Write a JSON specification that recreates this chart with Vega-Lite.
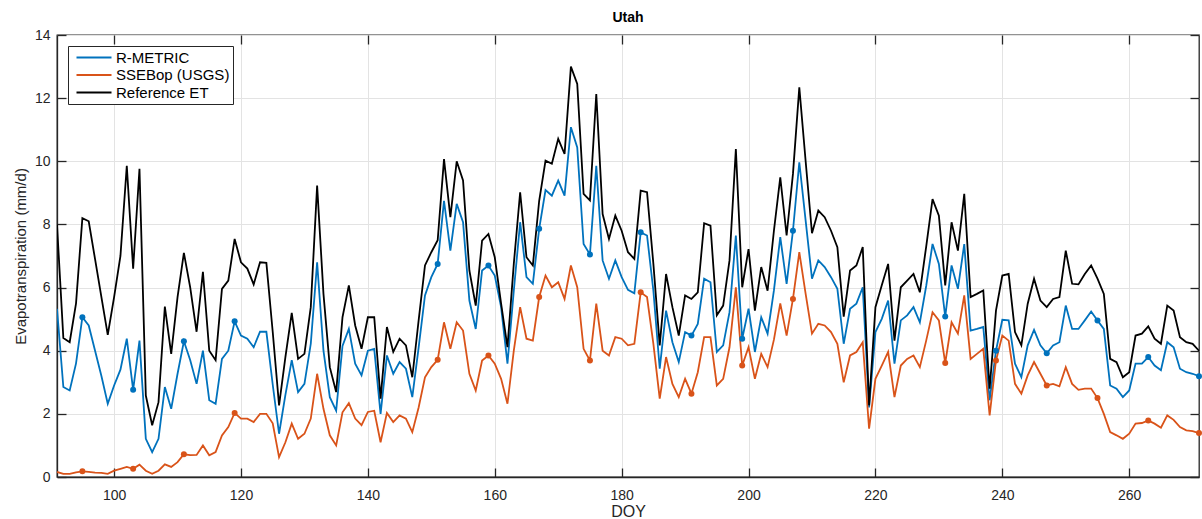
{
"$schema": "https://vega.github.io/schema/vega-lite/v6.json",
"width": 1142, "height": 442,
"autosize": {"type": "none"},
"padding": {"left": 57, "top": 35, "right": 3, "bottom": 42},
"background": "white",
"config": {"font": "Liberation Sans", "view": {"stroke": "#262626", "strokeWidth": 1.3}},
"title": {"text": "Utah", "fontSize": 14, "fontWeight": "bold", "offset": 3, "color": "black", "font": "Liberation Sans"},
"data": {"values": [
{"DOY":91,"ref":8.0,"rmetric":5.33,"ssebop":0.16},
{"DOY":92,"ref":4.4,"rmetric":2.85,"ssebop":0.10},
{"DOY":93,"ref":4.27,"rmetric":2.74,"ssebop":0.10},
{"DOY":94,"ref":5.5,"rmetric":3.6,"ssebop":0.15},
{"DOY":95,"ref":8.2,"rmetric":5.06,"ssebop":0.18},
{"DOY":96,"ref":8.1,"rmetric":4.8,"ssebop":0.16},
{"DOY":97,"ref":6.9,"rmetric":4.0,"ssebop":0.14},
{"DOY":98,"ref":5.7,"rmetric":3.2,"ssebop":0.13},
{"DOY":99,"ref":4.5,"rmetric":2.32,"ssebop":0.10},
{"DOY":100,"ref":5.7,"rmetric":2.9,"ssebop":0.20},
{"DOY":101,"ref":7.0,"rmetric":3.4,"ssebop":0.26},
{"DOY":102,"ref":9.86,"rmetric":4.38,"ssebop":0.32},
{"DOY":103,"ref":6.6,"rmetric":2.76,"ssebop":0.26},
{"DOY":104,"ref":9.76,"rmetric":4.32,"ssebop":0.39},
{"DOY":105,"ref":2.58,"rmetric":1.21,"ssebop":0.20},
{"DOY":106,"ref":1.64,"rmetric":0.79,"ssebop":0.10},
{"DOY":107,"ref":2.37,"rmetric":1.21,"ssebop":0.20},
{"DOY":108,"ref":5.4,"rmetric":2.85,"ssebop":0.40},
{"DOY":109,"ref":3.9,"rmetric":2.16,"ssebop":0.32},
{"DOY":110,"ref":5.7,"rmetric":3.27,"ssebop":0.47},
{"DOY":111,"ref":7.1,"rmetric":4.3,"ssebop":0.72},
{"DOY":112,"ref":6.0,"rmetric":3.7,"ssebop":0.69},
{"DOY":113,"ref":4.6,"rmetric":2.95,"ssebop":0.7},
{"DOY":114,"ref":6.5,"rmetric":4.0,"ssebop":1.0},
{"DOY":115,"ref":4.0,"rmetric":2.43,"ssebop":0.69},
{"DOY":116,"ref":3.7,"rmetric":2.32,"ssebop":0.79},
{"DOY":117,"ref":5.96,"rmetric":3.74,"ssebop":1.32},
{"DOY":118,"ref":6.22,"rmetric":4.0,"ssebop":1.58},
{"DOY":119,"ref":7.54,"rmetric":4.93,"ssebop":2.03},
{"DOY":120,"ref":6.8,"rmetric":4.48,"ssebop":1.85},
{"DOY":121,"ref":6.6,"rmetric":4.38,"ssebop":1.85},
{"DOY":122,"ref":6.1,"rmetric":4.11,"ssebop":1.74},
{"DOY":123,"ref":6.8,"rmetric":4.6,"ssebop":2.0},
{"DOY":124,"ref":6.78,"rmetric":4.6,"ssebop":2.0},
{"DOY":125,"ref":4.6,"rmetric":2.93,"ssebop":1.7},
{"DOY":126,"ref":2.27,"rmetric":1.37,"ssebop":0.63},
{"DOY":127,"ref":3.8,"rmetric":2.6,"ssebop":1.1},
{"DOY":128,"ref":5.2,"rmetric":3.7,"ssebop":1.69},
{"DOY":129,"ref":3.74,"rmetric":2.69,"ssebop":1.21},
{"DOY":130,"ref":3.9,"rmetric":2.95,"ssebop":1.37},
{"DOY":131,"ref":5.38,"rmetric":4.22,"ssebop":1.85},
{"DOY":132,"ref":9.23,"rmetric":6.8,"ssebop":3.27},
{"DOY":133,"ref":5.8,"rmetric":4.0,"ssebop":2.16},
{"DOY":134,"ref":3.48,"rmetric":2.53,"ssebop":1.32},
{"DOY":135,"ref":2.69,"rmetric":2.1,"ssebop":1.0},
{"DOY":136,"ref":5.06,"rmetric":4.15,"ssebop":2.05},
{"DOY":137,"ref":6.07,"rmetric":4.69,"ssebop":2.34},
{"DOY":138,"ref":4.8,"rmetric":3.59,"ssebop":1.85},
{"DOY":139,"ref":4.06,"rmetric":3.22,"ssebop":1.64},
{"DOY":140,"ref":5.06,"rmetric":4.0,"ssebop":2.06},
{"DOY":141,"ref":5.06,"rmetric":4.06,"ssebop":2.1},
{"DOY":142,"ref":2.48,"rmetric":2.0,"ssebop":1.1},
{"DOY":143,"ref":4.75,"rmetric":3.85,"ssebop":2.03},
{"DOY":144,"ref":3.96,"rmetric":3.27,"ssebop":1.74},
{"DOY":145,"ref":4.38,"rmetric":3.64,"ssebop":1.95},
{"DOY":146,"ref":4.17,"rmetric":3.43,"ssebop":1.85},
{"DOY":147,"ref":3.16,"rmetric":2.53,"ssebop":1.42},
{"DOY":148,"ref":4.96,"rmetric":4.1,"ssebop":2.2},
{"DOY":149,"ref":6.7,"rmetric":5.75,"ssebop":3.16},
{"DOY":150,"ref":7.12,"rmetric":6.33,"ssebop":3.48},
{"DOY":151,"ref":7.5,"rmetric":6.75,"ssebop":3.71},
{"DOY":152,"ref":10.07,"rmetric":8.75,"ssebop":4.9},
{"DOY":153,"ref":8.23,"rmetric":7.17,"ssebop":4.06},
{"DOY":154,"ref":10.0,"rmetric":8.65,"ssebop":4.9},
{"DOY":155,"ref":9.39,"rmetric":8.07,"ssebop":4.64},
{"DOY":156,"ref":6.54,"rmetric":5.59,"ssebop":3.27},
{"DOY":157,"ref":5.43,"rmetric":4.69,"ssebop":2.74},
{"DOY":158,"ref":7.49,"rmetric":6.54,"ssebop":3.69},
{"DOY":159,"ref":7.7,"rmetric":6.7,"ssebop":3.85},
{"DOY":160,"ref":6.96,"rmetric":6.38,"ssebop":3.59},
{"DOY":161,"ref":5.49,"rmetric":5.38,"ssebop":3.11},
{"DOY":162,"ref":4.11,"rmetric":3.59,"ssebop":2.32},
{"DOY":163,"ref":6.75,"rmetric":5.9,"ssebop":4.0},
{"DOY":164,"ref":9.02,"rmetric":8.07,"ssebop":5.38},
{"DOY":165,"ref":6.96,"rmetric":6.33,"ssebop":4.38},
{"DOY":166,"ref":6.7,"rmetric":6.12,"ssebop":4.32},
{"DOY":167,"ref":8.75,"rmetric":7.86,"ssebop":5.7},
{"DOY":168,"ref":10.02,"rmetric":9.09,"ssebop":6.38},
{"DOY":169,"ref":9.92,"rmetric":8.91,"ssebop":6.01},
{"DOY":170,"ref":10.71,"rmetric":9.39,"ssebop":6.17},
{"DOY":171,"ref":10.23,"rmetric":8.91,"ssebop":5.64},
{"DOY":172,"ref":13.0,"rmetric":11.08,"ssebop":6.7},
{"DOY":173,"ref":12.45,"rmetric":10.44,"ssebop":6.01},
{"DOY":174,"ref":8.97,"rmetric":7.38,"ssebop":4.06},
{"DOY":175,"ref":8.76,"rmetric":7.05,"ssebop":3.69},
{"DOY":176,"ref":12.13,"rmetric":9.86,"ssebop":5.49},
{"DOY":177,"ref":8.33,"rmetric":6.86,"ssebop":4.0},
{"DOY":178,"ref":7.54,"rmetric":6.28,"ssebop":3.85},
{"DOY":179,"ref":8.28,"rmetric":6.86,"ssebop":4.43},
{"DOY":180,"ref":7.8,"rmetric":6.33,"ssebop":4.38},
{"DOY":181,"ref":7.12,"rmetric":5.93,"ssebop":4.17},
{"DOY":182,"ref":6.91,"rmetric":5.82,"ssebop":4.22},
{"DOY":183,"ref":9.07,"rmetric":7.75,"ssebop":5.85},
{"DOY":184,"ref":9.02,"rmetric":7.65,"ssebop":5.7},
{"DOY":185,"ref":6.75,"rmetric":5.9,"ssebop":4.22},
{"DOY":186,"ref":4.17,"rmetric":3.43,"ssebop":2.48},
{"DOY":187,"ref":6.43,"rmetric":5.27,"ssebop":3.8},
{"DOY":188,"ref":5.38,"rmetric":4.27,"ssebop":2.95},
{"DOY":189,"ref":4.48,"rmetric":3.64,"ssebop":2.53},
{"DOY":190,"ref":5.75,"rmetric":4.59,"ssebop":3.11},
{"DOY":191,"ref":5.64,"rmetric":4.48,"ssebop":2.64},
{"DOY":192,"ref":5.85,"rmetric":4.85,"ssebop":3.32},
{"DOY":193,"ref":8.04,"rmetric":6.28,"ssebop":4.43},
{"DOY":194,"ref":7.96,"rmetric":6.17,"ssebop":4.43},
{"DOY":195,"ref":5.12,"rmetric":3.96,"ssebop":2.9},
{"DOY":196,"ref":5.43,"rmetric":4.17,"ssebop":3.11},
{"DOY":197,"ref":6.86,"rmetric":5.22,"ssebop":4.11},
{"DOY":198,"ref":10.39,"rmetric":7.65,"ssebop":6.01},
{"DOY":199,"ref":6.01,"rmetric":4.38,"ssebop":3.53},
{"DOY":200,"ref":7.22,"rmetric":5.33,"ssebop":4.11},
{"DOY":201,"ref":5.27,"rmetric":3.96,"ssebop":3.11},
{"DOY":202,"ref":6.65,"rmetric":5.06,"ssebop":3.9},
{"DOY":203,"ref":5.9,"rmetric":4.54,"ssebop":3.48},
{"DOY":204,"ref":7.8,"rmetric":5.91,"ssebop":4.35},
{"DOY":205,"ref":9.49,"rmetric":7.6,"ssebop":5.5},
{"DOY":206,"ref":7.65,"rmetric":6.12,"ssebop":4.48},
{"DOY":207,"ref":9.6,"rmetric":7.8,"ssebop":5.64},
{"DOY":208,"ref":12.34,"rmetric":9.97,"ssebop":7.12},
{"DOY":209,"ref":10.0,"rmetric":8.12,"ssebop":5.8},
{"DOY":210,"ref":7.72,"rmetric":6.28,"ssebop":4.54},
{"DOY":211,"ref":8.44,"rmetric":6.86,"ssebop":4.85},
{"DOY":212,"ref":8.23,"rmetric":6.65,"ssebop":4.8},
{"DOY":213,"ref":7.8,"rmetric":6.33,"ssebop":4.59},
{"DOY":214,"ref":7.28,"rmetric":5.96,"ssebop":4.22},
{"DOY":215,"ref":5.08,"rmetric":4.22,"ssebop":3.0},
{"DOY":216,"ref":6.54,"rmetric":5.33,"ssebop":3.85},
{"DOY":217,"ref":6.7,"rmetric":5.49,"ssebop":3.96},
{"DOY":218,"ref":7.28,"rmetric":6.01,"ssebop":4.27},
{"DOY":219,"ref":2.27,"rmetric":2.2,"ssebop":1.53},
{"DOY":220,"ref":5.38,"rmetric":4.59,"ssebop":3.11},
{"DOY":221,"ref":6.07,"rmetric":5.01,"ssebop":3.53},
{"DOY":222,"ref":6.75,"rmetric":5.59,"ssebop":3.96},
{"DOY":223,"ref":4.32,"rmetric":3.59,"ssebop":2.53},
{"DOY":224,"ref":6.01,"rmetric":4.96,"ssebop":3.53},
{"DOY":225,"ref":6.22,"rmetric":5.12,"ssebop":3.74},
{"DOY":226,"ref":6.43,"rmetric":5.38,"ssebop":3.85},
{"DOY":227,"ref":5.85,"rmetric":4.9,"ssebop":3.48},
{"DOY":228,"ref":7.3,"rmetric":6.05,"ssebop":4.32},
{"DOY":229,"ref":8.8,"rmetric":7.38,"ssebop":5.22},
{"DOY":230,"ref":8.28,"rmetric":6.75,"ssebop":4.96},
{"DOY":231,"ref":6.07,"rmetric":5.08,"ssebop":3.61},
{"DOY":232,"ref":8.07,"rmetric":6.7,"ssebop":4.9},
{"DOY":233,"ref":7.17,"rmetric":5.96,"ssebop":4.54},
{"DOY":234,"ref":8.97,"rmetric":7.38,"ssebop":5.75},
{"DOY":235,"ref":5.7,"rmetric":4.64,"ssebop":3.74},
{"DOY":236,"ref":5.8,"rmetric":4.69,"ssebop":3.9},
{"DOY":237,"ref":5.91,"rmetric":4.75,"ssebop":4.06},
{"DOY":238,"ref":2.8,"rmetric":2.43,"ssebop":1.95},
{"DOY":239,"ref":5.27,"rmetric":4.0,"ssebop":3.69},
{"DOY":240,"ref":6.38,"rmetric":4.98,"ssebop":4.48},
{"DOY":241,"ref":6.43,"rmetric":4.96,"ssebop":4.32},
{"DOY":242,"ref":4.59,"rmetric":3.59,"ssebop":2.95},
{"DOY":243,"ref":4.17,"rmetric":3.16,"ssebop":2.64},
{"DOY":244,"ref":5.49,"rmetric":4.17,"ssebop":3.22},
{"DOY":245,"ref":6.28,"rmetric":4.66,"ssebop":3.64},
{"DOY":246,"ref":5.59,"rmetric":4.17,"ssebop":3.27},
{"DOY":247,"ref":5.38,"rmetric":3.92,"ssebop":2.9},
{"DOY":248,"ref":5.64,"rmetric":4.17,"ssebop":2.95},
{"DOY":249,"ref":5.7,"rmetric":4.27,"ssebop":2.87},
{"DOY":250,"ref":7.17,"rmetric":5.43,"ssebop":3.48},
{"DOY":251,"ref":6.12,"rmetric":4.69,"ssebop":2.95},
{"DOY":252,"ref":6.1,"rmetric":4.69,"ssebop":2.76},
{"DOY":253,"ref":6.43,"rmetric":4.96,"ssebop":2.8},
{"DOY":254,"ref":6.7,"rmetric":5.24,"ssebop":2.8},
{"DOY":255,"ref":6.28,"rmetric":4.96,"ssebop":2.5},
{"DOY":256,"ref":5.8,"rmetric":4.69,"ssebop":2.0},
{"DOY":257,"ref":3.74,"rmetric":2.9,"ssebop":1.42},
{"DOY":258,"ref":3.64,"rmetric":2.8,"ssebop":1.32},
{"DOY":259,"ref":3.16,"rmetric":2.53,"ssebop":1.21},
{"DOY":260,"ref":3.32,"rmetric":2.74,"ssebop":1.37},
{"DOY":261,"ref":4.48,"rmetric":3.59,"ssebop":1.69},
{"DOY":262,"ref":4.54,"rmetric":3.59,"ssebop":1.71},
{"DOY":263,"ref":4.77,"rmetric":3.8,"ssebop":1.79},
{"DOY":264,"ref":4.38,"rmetric":3.53,"ssebop":1.69},
{"DOY":265,"ref":4.22,"rmetric":3.38,"ssebop":1.56},
{"DOY":266,"ref":5.43,"rmetric":4.27,"ssebop":1.95},
{"DOY":267,"ref":5.27,"rmetric":4.11,"ssebop":1.81},
{"DOY":268,"ref":4.43,"rmetric":3.43,"ssebop":1.58},
{"DOY":269,"ref":4.27,"rmetric":3.32,"ssebop":1.48},
{"DOY":270,"ref":4.22,"rmetric":3.27,"ssebop":1.45},
{"DOY":271,"ref":4.0,"rmetric":3.19,"ssebop":1.39}
]},
"transform": [{"fold": ["rmetric", "ssebop", "ref"], "as": ["series", "et"]}],
"encoding": {
  "x": {"field": "DOY", "type": "quantitative", "axis": null, "scale": {"domain": [91, 271], "nice": false, "zero": false}},
  "y": {"field": "et", "type": "quantitative", "axis": null, "scale": {"domain": [0, 14], "nice": false}}
},
"resolve": {"axis": {"x": "independent", "y": "independent"}},
"layer": [
  {
    "mark": {"type": "line", "strokeWidth": 1.8, "clip": true},
    "encoding": {
      "x": {"field": "DOY", "type": "quantitative", "title": "DOY",
        "axis": {"values": [100,120,140,160,180,200,220,240,260], "tickSize": -9, "tickColor": "#262626", "tickWidth": 1.3, "labelPadding": 20, "labelFontSize": 14, "labelColor": "#262626", "labelFont": "Liberation Sans", "titleFontSize": 16, "titleFontWeight": "normal", "titleColor": "#262626", "titleFont": "Liberation Sans", "titlePadding": 1, "gridColor": "#e3e3e3", "gridWidth": 1, "domainColor": "#262626", "domainWidth": 1.3}},
      "y": {"field": "et", "type": "quantitative", "title": "Evapotranspiration (mm/d)",
        "axis": {"values": [0,2,4,6,8,10,12,14], "tickSize": -9, "tickColor": "#262626", "tickWidth": 1.3, "labelPadding": 16, "labelFontSize": 14, "labelColor": "#262626", "labelFont": "Liberation Sans", "titleFontSize": 15, "titleFontWeight": "normal", "titleColor": "#262626", "titleFont": "Liberation Sans", "titlePadding": 6, "gridColor": "#e3e3e3", "gridWidth": 1, "domainColor": "#262626", "domainWidth": 1.3}},
      "color": {"field": "series", "type": "nominal",
        "scale": {"domain": ["rmetric", "ssebop", "ref"], "range": ["#0072BD", "#D95319", "#000000"]},
        "sort": ["rmetric", "ssebop", "ref"],
        "legend": {"title": null, "orient": "top-left", "offset": 11, "labelExpr": "datum.value == 'rmetric' ? 'R-METRIC' : datum.value == 'ssebop' ? 'SSEBop (USGS)' : 'Reference ET'", "symbolType": "M-1,0H4", "symbolStrokeWidth": 2.2, "symbolSize": 196, "symbolFillColor": "transparent", "symbolOffset": 4, "labelFontSize": 15, "labelFont": "Liberation Sans", "labelColor": "#000000", "labelOffset": 24, "strokeColor": "#262626", "fillColor": "white", "padding": 3, "rowPadding": 0.5, "cornerRadius": 0}}
    }
  },
  {
    "transform": [
      {"filter": {"field": "DOY", "oneOf": [95,103,111,119,151,159,167,175,183,191,199,207,231,239,247,255,263,271]}},
      {"filter": {"field": "series", "oneOf": ["rmetric", "ssebop"]}}
    ],
    "mark": {"type": "circle", "size": 36, "opacity": 1},
    "encoding": {
      "color": {"field": "series", "type": "nominal", "legend": null}
    }
  },
  {
    "transform": [{"filter": {"field": "series", "equal": "ref"}}],
    "mark": {"type": "point", "opacity": 0},
    "encoding": {
      "x": {"field": "DOY", "type": "quantitative", "axis": {"orient": "top", "values": [100,120,140,160,180,200,220,240,260], "labels": false, "title": null, "grid": false, "domain": false, "tickSize": -9, "tickColor": "#262626", "tickWidth": 1.3}},
      "y": {"field": "et", "type": "quantitative", "axis": {"orient": "right", "values": [0,2,4,6,8,10,12,14], "labels": false, "title": null, "grid": false, "domain": false, "tickSize": -9, "tickColor": "#262626", "tickWidth": 1.3}}
    }
  }
]
}
